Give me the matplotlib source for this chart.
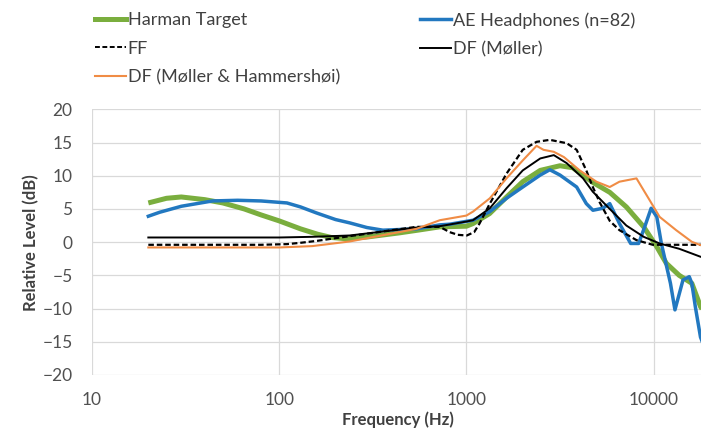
import matplotlib
matplotlib.use("Agg")
import matplotlib.pyplot as plt
from matplotlib.lines import Line2D

plt.rcParams['font.family'] = ['Lato', 'DejaVu Sans']

# Harman Target
harman_f = [20, 25, 30, 40, 50, 65, 80, 100, 130, 160, 190, 230, 300, 440, 550, 720,
            1000, 1085, 1330, 1640, 2000, 2480, 3160, 3700, 4730, 5830, 7150, 8850,
            10400, 11700, 13700, 16000, 17800, 20000]
harman_db = [5.9, 6.6, 6.8, 6.4, 5.9, 5.0, 4.1, 3.2, 2.0, 1.2, 0.7, 0.5, 0.8, 1.4, 1.8, 2.3,
             2.4, 2.8, 4.3, 6.8, 9.1, 10.8, 11.5, 11.2, 9.0, 7.5, 5.3, 2.3,
             -0.7, -3.2, -5.0, -6.2, -9.7, -12.0]

# AE Headphones (n=82)
ae_f = [20, 23, 30, 44, 60, 80, 110, 130, 158, 200, 238, 294, 358, 541, 721, 815, 1085,
        1334, 1637, 2000, 2480, 2790, 3160, 3880, 4370, 4740, 5350, 5830, 6570, 7540,
        8320, 8960, 9700, 10400, 11000, 12300, 13000, 14350, 15500, 16000, 16700,
        17800, 20000]
ae_db = [3.9, 4.5, 5.4, 6.2, 6.3, 6.2, 5.9, 5.3, 4.4, 3.4, 2.9, 2.2, 1.8, 2.0, 2.6, 2.7, 3.3,
         4.6, 6.6, 8.3, 10.1, 10.9, 10.1, 8.3, 5.8, 4.8, 5.1, 5.8, 2.8, -0.2,
         -0.2, 2.3, 5.1, 3.8, -0.2, -6.2, -10.2, -5.7, -5.2, -6.2, -9.7,
         -14.3, -18.0]

# FF
ff_f = [20, 80, 110, 130, 160, 200, 238, 300, 400, 541, 721, 815, 900, 1004, 1100, 1175,
        1334, 1637, 2000, 2370, 2790, 3430, 3880, 4370, 4700, 5150, 5830, 6570, 8100,
        9900, 20000]
ff_db = [-0.4, -0.4, -0.3, -0.1, 0.2, 0.6, 0.9, 1.3, 1.8, 2.3, 2.3, 1.5, 1.1, 1.0, 1.5, 2.8,
         5.8, 10.3, 13.9, 15.1, 15.4, 14.9, 13.9, 10.8, 8.5, 6.0, 3.2, 1.8, 0.3,
         -0.4, -0.4]

# DF (Møller)
dfm_f = [20, 100, 150, 238, 541, 721, 1000, 1085, 1334, 1637, 2000, 2480, 2930, 3430,
         4200, 4730, 5830, 7150, 8850, 10770, 13700, 17800, 20000]
dfm_db = [0.7, 0.7, 0.8, 1.0, 2.2, 2.4, 3.1, 3.3, 5.1, 8.1, 10.8, 12.6, 13.1, 11.9,
          9.6, 7.6, 5.0, 2.5, 0.8, -0.2, -1.0, -2.2, -2.6]

# DF (Møller & Hammershøi)
dfmh_f = [20, 100, 150, 238, 541, 721, 1000, 1085, 1334, 1637, 2000, 2370, 2580, 2930,
          3320, 4030, 4950, 5830, 6570, 8100, 9530, 10770, 13200, 16000, 17800, 20000]
dfmh_db = [-0.8, -0.8, -0.6, 0.1, 2.0, 3.3, 4.0, 4.6, 6.6, 9.6, 12.3, 14.5, 13.9, 13.6,
           12.8, 10.8, 9.1, 8.3, 9.1, 9.6, 6.3, 3.8, 1.8, 0.05, -0.45, -0.6]

x_ticks = [10, 100, 1000, 10000]
y_ticks = list(range(-20, 25, 5))

green = '#7aae3e'
blue = '#2278c0'
orange = '#f08c45'
tekst = '#404040'

fig = plt.figure(figsize=(7.01, 4.32), dpi=100)
ax = fig.add_axes([0.1312, 0.132, 0.8816, 0.615])

ax.plot(harman_f, harman_db, color=green, lw=3.6, solid_capstyle='butt')
ax.plot(ae_f, ae_db, color=blue, lw=2.5)
ax.plot(ff_f, ff_db, color='black', lw=1.6, ls=(0, (2.5, 1.3)))
ax.plot(dfm_f, dfm_db, color='black', lw=1.4)
ax.plot(dfmh_f, dfmh_db, color=orange, lw=1.5)

ax.set_xscale('log')
ax.set_xlim(10, 20000)
ax.set_ylim(-20, 20)
ax.set_xticks(x_ticks)
ax.set_xticklabels([str(t) for t in x_ticks])
ax.minorticks_off()
ax.set_yticks(y_ticks)
ax.grid(True, color='#d9d9d9', lw=0.9)
ax.set_axisbelow(True)
for s in ax.spines.values():
    s.set_visible(False)
ax.tick_params(length=0, labelsize=12.5, labelcolor='#505050')
ax.tick_params(axis='y', pad=14)
ax.tick_params(axis='x', pad=12)

ax.set_xlabel('Frequency (Hz)', fontsize=12, fontweight='bold', color=tekst)
ax.set_ylabel('Relative Level (dB)', fontsize=12, fontweight='bold', color=tekst)
ax.xaxis.set_label_coords(0.5 - 3 / 618, -0.137)
ax.yaxis.set_label_coords(-0.0858, 0.5)

# legend in two columns, placed by hand
vasak = [Line2D([], [], color=green, lw=3.6),
         Line2D([], [], color='black', lw=1.4, ls=(0, (2.5, 1.3))),
         Line2D([], [], color=orange, lw=1.5)]
parem = [Line2D([], [], color=blue, lw=2.5),
         Line2D([], [], color='black', lw=1.4)]
opts = dict(loc='upper left', frameon=False, fontsize=13, handlelength=1.7,
            handletextpad=0.1, borderpad=0, borderaxespad=0, labelspacing=0.7,
            labelcolor=tekst)
fig.legend(vasak, ['Harman Target', 'FF', 'DF (Møller & Hammershøi)'],
           bbox_to_anchor=(95 / 701, 1 - 12 / 432), **opts)
fig.legend(parem, ['AE Headphones (n=82)', 'DF (Møller)'],
           bbox_to_anchor=(420 / 701, 1 - 12 / 432), **opts)

fig.savefig('out.png', dpi=100)
